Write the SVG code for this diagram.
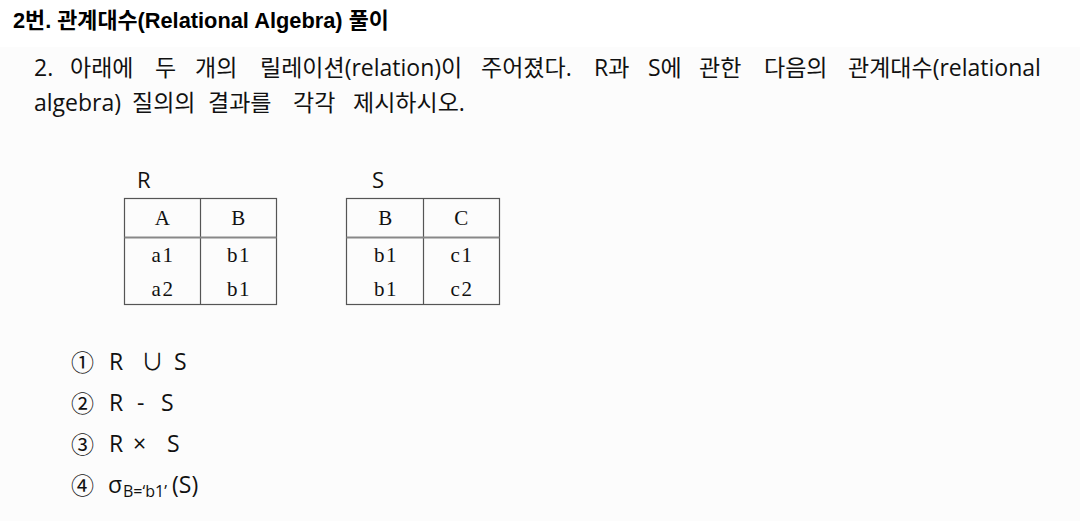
<svg xmlns="http://www.w3.org/2000/svg" width="1080" height="521" viewBox="0 0 1080 521">
<style>
.title{font-family:"Liberation Sans","Noto Sans CJK KR",sans-serif;font-weight:bold;font-size:21.8px;fill:#000}
.body{font-family:"Open Sans","Noto Sans CJK KR",sans-serif;font-size:23px;fill:#111}
.cell{font-family:"Liberation Serif","Noto Serif CJK KR",serif;font-size:21px;fill:#111;text-anchor:middle;letter-spacing:1.5px}
.lbl{font-family:"Open Sans","Noto Sans CJK KR",sans-serif;font-size:22px;fill:#111}
.item{font-family:"Open Sans","Noto Sans CJK KR",sans-serif;font-size:23px;fill:#111}
.num{font-family:"Noto Sans CJK KR",sans-serif;font-size:23px;fill:#111}
.sub{font-family:"Open Sans","Noto Sans CJK KR",sans-serif;font-size:16px;fill:#111}
.grid{fill:none;stroke:#555;stroke-width:1.2}
.hdr{stroke:#888;stroke-width:2}
</style>
<rect x="0" y="0" width="1080" height="521" fill="#ffffff"/>
<rect x="0" y="47" width="1080" height="474" fill="#fcfcfc"/>
<text class="title" x="13" y="28">2번. 관계대수(Relational Algebra) 풀이</text>
<g id="question">
<text class="body" y="76"><tspan x="34">2.</tspan><tspan x="70">아래에</tspan><tspan x="155">두</tspan><tspan x="195">개의</tspan><tspan x="260">릴레이션(relation)이</tspan><tspan x="481">주어졌다.</tspan><tspan x="594">R과</tspan><tspan x="648">S에</tspan><tspan x="699">관한</tspan><tspan x="764">다음의</tspan><tspan x="848">관계대수(relational</tspan></text>
<text class="body" y="111"><tspan x="34">algebra)</tspan><tspan x="132">질의의</tspan><tspan x="208">결과를</tspan><tspan x="293">각각</tspan><tspan x="353">제시하시오.</tspan></text>
</g>
<g id="tableR">
<text class="lbl" x="137" y="188">R</text>
<rect class="grid" x="124.5" y="198.5" width="152" height="106"/>
<line class="grid" x1="200.5" y1="198.5" x2="200.5" y2="304.5"/>
<line class="hdr" x1="124.5" y1="237.5" x2="276.5" y2="237.5"/>
<text class="cell" x="163" y="225">A</text>
<text class="cell" x="239" y="225">B</text>
<text class="cell" x="163" y="262">a1</text>
<text class="cell" x="239" y="262">b1</text>
<text class="cell" x="163" y="296">a2</text>
<text class="cell" x="239" y="296">b1</text>
</g>
<g id="tableS">
<text class="lbl" x="372" y="188">S</text>
<rect class="grid" x="346.5" y="198.5" width="153" height="106"/>
<line class="grid" x1="423.5" y1="198.5" x2="423.5" y2="304.5"/>
<line class="hdr" x1="346.5" y1="237.5" x2="499.5" y2="237.5"/>
<text class="cell" x="386" y="225">B</text>
<text class="cell" x="462" y="225">C</text>
<text class="cell" x="386" y="262">b1</text>
<text class="cell" x="462" y="262">c1</text>
<text class="cell" x="386" y="296">b1</text>
<text class="cell" x="462" y="296">c2</text>
</g>
<g id="items">
<text class="num" x="71" y="371">①</text>
<text class="item" y="370"><tspan x="109">R</tspan><tspan x="141">∪</tspan><tspan x="174">S</tspan></text>
<text class="num" x="71" y="412">②</text>
<text class="item" y="411"><tspan x="109">R</tspan><tspan x="137">-</tspan><tspan x="161">S</tspan></text>
<text class="num" x="71" y="453">③</text>
<text class="item" y="452"><tspan x="109">R</tspan><tspan x="133">×</tspan><tspan x="167">S</tspan></text>
<text class="num" x="71" y="494">④</text>
<text class="item" x="108" y="493">σ</text>
<text class="sub" x="123" y="497">B=‘b1’</text>
<text class="item" x="172" y="493">(S)</text>
</g>
</svg>
